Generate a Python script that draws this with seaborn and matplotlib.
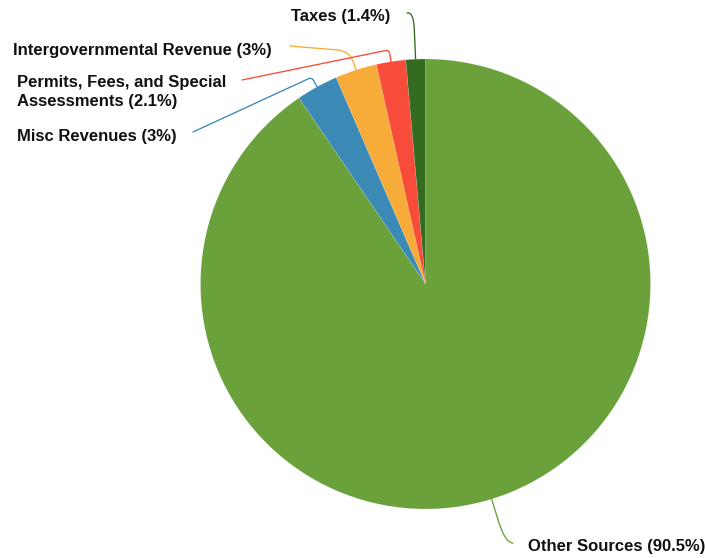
import numpy as np
import matplotlib
matplotlib.use("Agg")
import matplotlib.pyplot as plt
from matplotlib.path import Path
from matplotlib.patches import PathPatch
import seaborn as sns

# Revenue shares (percent), drawn clockwise from 12 o'clock
categories = ["Other Sources", "Misc Revenues", "Intergovernmental Revenue",
              "Permits, Fees, and Special\nAssessments", "Taxes"]
shares = [90.5, 3, 3, 2.1, 1.4]
colors = ["#6ba13b", "#3b89b5", "#f7ab38", "#f74c39", "#346b21"]

W, H = 705, 558
CX, CY, R = 425.5, 284, 225

sns.set_theme(style="white")
plt.rcParams["font.family"] = ["Liberation Sans", "DejaVu Sans"]

fig = plt.figure(figsize=(W / 100, H / 100), dpi=100)
ax = fig.add_axes([0, 0, 1, 1])


def py(y):
    """screen-style y (top=0) to axis y (bottom=0)"""
    return H - y


wedges, _ = ax.pie(shares, colors=colors, startangle=90, counterclock=False,
                   center=(CX, py(CY)), radius=R,
                   wedgeprops=dict(edgecolor="#ffffff55", linewidth=0.25))
ax.set_xlim(0, W)
ax.set_ylim(0, H)
ax.axis("off")

# label layout: leader end point, radial extension, corner radius, text anchor
layout = [
    dict(end=(513, 543), ext=45, rr=22, text=(528, 547), ha="left"),
    dict(end=(193, 132), ext=11, rr=4, text=(177, 137), ha="right"),
    dict(end=(290, 46), ext=20, rr=12, text=(272, 51), ha="right"),
    dict(end=(242, 80), ext=12, rr=4, text=(226, 92), ha="right"),
    dict(end=(407, 13), ext=47, rr=16, text=(390, 17), ha="right"),
]


def rounded_leader(p0, c, p1, rr):
    p0, c, p1 = map(np.asarray, (p0, c, p1))
    d1 = c - p0
    d2 = p1 - c
    l1, l2 = np.linalg.norm(d1), np.linalg.norm(d2)
    r1 = min(rr, l1 * 0.9)
    r2 = min(rr, l2 * 0.9)
    a = c - d1 / l1 * r1
    b = c + d2 / l2 * r2
    verts = [p0, a, c, b, p1]
    codes = [Path.MOVETO, Path.LINETO, Path.CURVE3, Path.CURVE3, Path.LINETO]
    return Path(verts, codes)


for w, cat, val, col, lay in zip(wedges, categories, shares, colors, layout):
    mid = np.deg2rad((w.theta1 + w.theta2) / 2)
    d = np.array([np.cos(mid), np.sin(mid)])
    ctr = np.array([CX, py(CY)])
    p0 = ctr + R * d
    c = ctr + (R + lay["ext"]) * d
    end = (lay["end"][0], py(lay["end"][1]))
    path = rounded_leader(p0, c, end, lay["rr"])
    ax.add_patch(PathPatch(path, facecolor="none", edgecolor=col, lw=0.95,
                           capstyle="round", joinstyle="round"))
    ax.text(lay["text"][0], py(lay["text"][1]), f"{cat} ({val:g}%)",
            ha=lay["ha"], va="center", multialignment="left",
            fontsize=12, fontweight="bold", color="#111111", linespacing=1.4)

fig.savefig("out.png", dpi=100)
